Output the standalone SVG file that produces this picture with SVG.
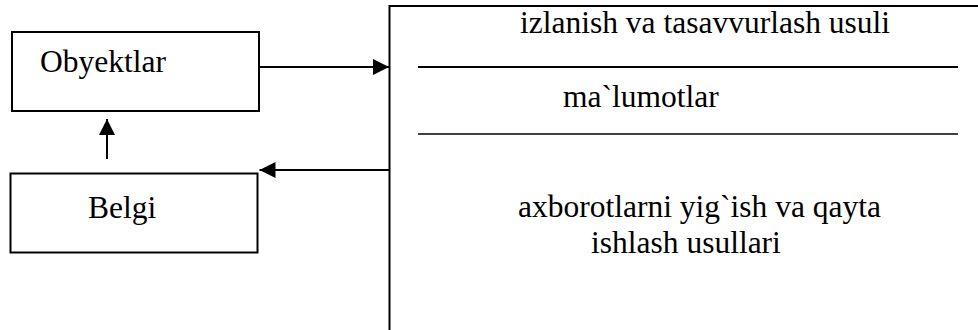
<svg xmlns="http://www.w3.org/2000/svg" width="978" height="330" viewBox="0 0 978 330">
  <style>
    .box { fill: #fff; stroke: #000; stroke-width: 2; }
    .ln { fill: none; stroke: #000; stroke-width: 2; }
    text { font-family: 'Liberation Serif', 'Times New Roman', serif; font-size: 31.5px; fill: #000; }
  </style>
  <defs>
    <marker id="arr" viewBox="0 0 16 16" refX="16" refY="8" markerWidth="16" markerHeight="16" markerUnits="userSpaceOnUse" orient="auto">
      <path d="M0,0 L16,8 L0,16 Z" fill="#000"/>
    </marker>
  </defs>
  <rect width="978" height="330" fill="#fff"/>

  <g id="obyektlar">
    <rect class="box" x="12" y="32" width="247" height="79"/>
    <text x="40" y="72">Obyektlar</text>
  </g>

  <g id="belgi">
    <rect class="box" x="10.5" y="173.5" width="247" height="79"/>
    <text x="88" y="218">Belgi</text>
  </g>

  <g id="usullar">
    <path class="ln" d="M389.5,330 V6 H978"/>
    <line class="ln" x1="418" y1="67" x2="958" y2="67"/>
    <line x1="418" y1="134" x2="958" y2="134" stroke="#000" stroke-width="1.5"/>
    <text x="520" y="33">izlanish va tasavvurlash usuli</text>
    <text x="563" y="106.5">ma`lumotlar</text>
    <text x="518" y="216.5">axborotlarni yig`ish va qayta</text>
    <text x="591" y="253">ishlash usullari</text>
  </g>

  <g id="connectors">
    <line class="ln" x1="259" y1="67" x2="389" y2="67" marker-end="url(#arr)"/>
    <line class="ln" x1="389" y1="170" x2="259.5" y2="170" marker-end="url(#arr)"/>
    <line class="ln" x1="107" y1="159" x2="107" y2="119" marker-end="url(#arr)"/>
  </g>
</svg>
